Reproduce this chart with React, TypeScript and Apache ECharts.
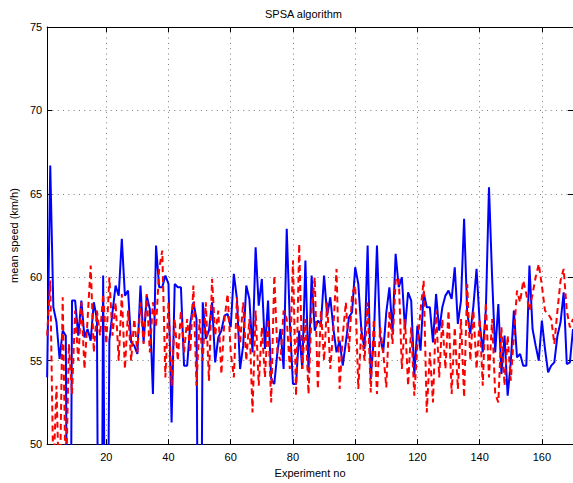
import React, { useEffect, useRef } from "react";
import * as echarts from "echarts";

const titleText = "SPSA algorithm";
const xName = "Experiment no";
const yName = "mean speed (km/h)";
const xTickValues = [20, 40, 60, 80, 100, 120, 140, 160];
const xMin = 1;
const xMax = 170;
const yMin = 50;
const yMax = 75;
const yStep = 5;

// blue solid series, experiment 1..170
const blueSpeeds = [
  54, 66.7, 58.2, 57.3, 55.1, 56.8, 56.5, 22, 58.6, 58.6,
  56.5, 58.6, 56.4, 56.9, 56.2, 58.5, 57.5, 20, 60.1, 30,
  56.2, 57.9, 59.5, 58.9, 62.3, 58.9, 59.2, 56.1, 55.9, 55.4,
  59.5, 56.1, 58.9, 58.1, 53.0, 61.9, 59.4, 59.4, 60.1, 59.6,
  51.3, 59.6, 59.4, 59.4, 54.7, 54.7, 57.2, 58.5, 57.5, 25,
  58.5, 56.3, 56.8, 58.5, 54.9, 56.4, 56.8, 57.7, 57.8, 57.0,
  60.2, 58.7, 54.5, 55.9, 59.5, 58.7, 55.5, 61.8, 58.3, 59.9,
  55.7, 58.6, 53.9, 53.6, 55.5, 56.9, 54.5, 62.9, 57.3, 53.6,
  53.6, 56.8, 54.5, 61.0, 54.3, 60.1, 56.8, 57.4, 57.2, 60.1,
  57.7, 58.8, 56.9, 55.5, 56.2, 54.7, 56.1, 57.6, 57.9, 60.6,
  59.6, 56.8, 55.7, 61.9, 53.9, 56.4, 61.9, 56.5, 55.5, 57.9,
  59.4, 56.7, 61.4, 59.4, 60.0, 56.9, 59.1, 58.6, 54.1, 57.1,
  55.6, 59.1, 58.2, 58.2, 56.1, 59.0, 56.8, 58.2, 58.9, 59.2,
  58.7, 60.6, 57.2, 58.6, 63.5, 57.9, 56.6, 58.3, 60.5, 57.3,
  55.5, 58.1, 65.4, 60.0, 55.5, 58.4, 54.2, 56.5, 52.9, 54.9,
  58.0, 55.2, 55.4, 54.7, 54.7, 60.7, 56.9, 55.9, 55.0, 57.4,
  55.7, 54.3, 54.7, 54.9, 56.5, 57.3, 59.1, 54.8, 54.9, 56.9,
];

// red dashed series, experiment 1..170
const redSpeeds = [
  56.5, 59.8, 48, 53.5, 46, 58.8, 47, 56, 53, 58,
  55, 58.5, 54.5, 57.5, 60.7, 55.5, 58, 56.5, 59, 56,
  60, 56.5, 58.5, 55, 59, 54.5, 58, 55, 57.5, 55.5,
  58.5, 56, 59, 55.5, 58.5, 57, 60.5, 61.6, 54, 58.5,
  53.5, 57.5, 55, 58, 55.5, 57.5, 55.5, 59.5, 53.5, 57.5,
  55, 58.5, 53.8, 59.9, 56.5, 58, 54.2, 57.5, 59, 55.5,
  54, 58.8, 56, 58.5, 55, 57.5, 51.9, 58, 53.5, 57,
  54, 57.5, 52.5, 60.1, 55.5, 55, 58, 57.5, 54.5, 61,
  52.9, 62, 54.5, 57.5, 53, 58, 60, 53.3, 58, 55,
  58.5, 54.5, 57, 60.5, 53.3, 56.5, 58.5, 55.5, 59, 59.5,
  53.3, 57, 55, 58.5, 53.1, 57.5, 53, 57, 55.5, 53.4,
  58, 56, 59.8, 60, 54.5, 57.5, 53.5, 57, 52.9, 56,
  58, 59.8, 51.9, 55.5, 52.5, 58, 54, 57.5, 54.5, 58,
  53, 57, 53.3, 57.5, 52.8, 59.6, 55, 58, 54.5, 57.5,
  53.5, 58.5, 54, 57.5, 53, 52.5, 57, 53.5, 56.5, 53.8,
  56.5, 59.2, 58.5, 59.8, 59, 58, 59, 60, 60.8, 59.5,
  58, 57.8, 57.5, 56, 58, 59.8, 60.5, 58, 57, 57.5,
];

export default function App() {
  const ref = useRef<HTMLDivElement>(null);

  useEffect(() => {
    const chart = echarts.init(ref.current!, null, { renderer: "svg" });
    const font = "'Liberation Sans', Arial, Helvetica, sans-serif";
    const axisLine = { show: true, onZero: false, lineStyle: { color: "#000", width: 1 } };
    const gridLine = { show: true, lineStyle: { color: "#7a7a7a", type: [1, 4.3], width: 1 } };

    chart.setOption({
      animation: false,
      backgroundColor: "#ffffff",
      textStyle: { fontFamily: font },
      title: {
        text: titleText,
        left: 265,
        top: 8,
        padding: 0,
        textStyle: { fontFamily: font, fontSize: 11, fontWeight: "normal", color: "#000" },
      },
      grid: { left: 40, right: 0, top: 27, bottom: 35, containLabel: false },
      xAxis: [
        {
          type: "value",
          min: xMin,
          max: xMax,
          position: "bottom",
          name: xName,
          nameLocation: "middle",
          nameGap: 20,
          nameTextStyle: { fontFamily: font, fontSize: 11, color: "#000" },
          axisLine,
          axisTick: { show: true, inside: true, length: 5, customValues: xTickValues, lineStyle: { color: "#000" } },
          axisLabel: { show: true, customValues: xTickValues, margin: 7, fontSize: 11, color: "#000", fontFamily: font },
          splitLine: gridLine,
        },
        {
          type: "value",
          min: xMin,
          max: xMax,
          position: "top",
          axisLine,
          axisTick: { show: true, inside: true, length: 5, customValues: xTickValues, lineStyle: { color: "#000" } },
          axisLabel: { show: false },
          splitLine: { show: false },
        },
      ],
      yAxis: [
        {
          type: "value",
          min: yMin,
          max: yMax,
          interval: yStep,
          position: "left",
          name: yName,
          nameLocation: "middle",
          nameRotate: 90,
          nameGap: 20,
          nameTextStyle: { fontFamily: font, fontSize: 11, color: "#000" },
          axisLine,
          axisTick: { show: true, inside: true, length: 5, lineStyle: { color: "#000" } },
          axisLabel: { show: true, margin: 5, fontSize: 11, color: "#000", fontFamily: font },
          splitLine: gridLine,
        },
        {
          type: "value",
          min: yMin,
          max: yMax,
          interval: yStep,
          position: "right",
          axisLine,
          axisTick: { show: true, inside: true, length: 5, lineStyle: { color: "#000" } },
          axisLabel: { show: false },
          splitLine: { show: false },
        },
      ],
      series: [
        {
          type: "line",
          name: "blue",
          data: blueSpeeds.map((v, i) => [i + 1, v]),
          showSymbol: false,
          clip: true,
          lineStyle: { color: "#0000ff", width: 2 },
          itemStyle: { color: "#0000ff" },
          z: 2,
        },
        {
          type: "line",
          name: "red",
          data: redSpeeds.map((v, i) => [i + 1, v]),
          showSymbol: false,
          clip: true,
          lineStyle: { color: "#ff0000", width: 2, type: [6, 4] },
          itemStyle: { color: "#ff0000" },
          z: 3,
        },
      ],
    });

    return () => chart.dispose();
  }, []);

  return (
    <div
      ref={ref}
      style={{ position: "fixed", left: 0, top: 0, width: 573, height: 483, background: "#fff" }}
    />
  );
}
